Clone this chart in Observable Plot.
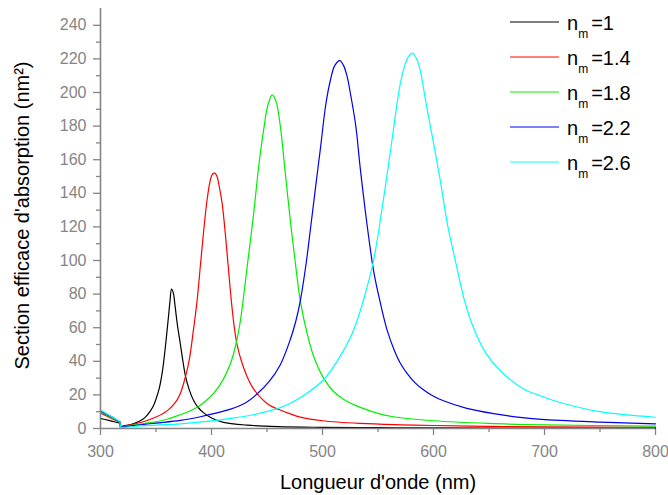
<!DOCTYPE html>
<html>
<head>
<meta charset="utf-8">
<script src="https://cdn.jsdelivr.net/npm/d3@7"></script>
<script src="https://cdn.jsdelivr.net/npm/@observablehq/plot@0.6"></script>
<style>
  html, body { margin: 0; padding: 0; background: #fff; }
  #wrap { position: relative; width: 668px; height: 495px; font-family: "Liberation Sans", Arial, sans-serif; }
  #legend { position: absolute; left: 0; top: 0; }
</style>
</head>
<body>
<div id="wrap"></div>
<script>
// ---- data ----
const seriesLabels = ["1", "1.4", "1.8", "2.2", "2.6"];
const seriesColors = ["#000000", "#ff0000", "#00f000", "#0000ee", "#00ffff"];

const lam1 = [300,305,310,317.5,318,325,330,335,340,345,348,350,353,356,359,361,362.5,364,365.5,367,369,372,374.5,376.6,380,384,388,393,400,410,432,460,500,550,600,700,800];
const sig1 = [6,5.2,4.4,3.2,1.2,2,3,4.3,6.5,10.5,14,17.5,24,35,52,65,75,83,81,74,63,50,39,31,23,16.5,12.5,9.3,6.2,3.8,2,1.1,0.7,0.5,0.35,0.2,0.15];

const lam2 = [300,305,310,317.5,318,325,330,340,350,360,368,372,376.6,380,384,387,390,393,396,399,401,403,405,407,409.6,413,417,420,423,427,432,437,442.6,452,460,470,480,500,534,570,600,650,700,800];
const sig2 = [9.2,7.6,6,3.6,1,1.9,2.6,4.3,6.8,10.5,16,21,31,41,60,76,97,118,136,148,151.5,152,150,144,134,112,82,63,50,40,31,24.5,19.6,14,11.5,9,6.8,4.6,3,2.2,1.8,1.3,1,0.7];

const lam3 = [300,305,310,317.5,318,325,330,340,350,360,370,380,388,395,402,410,417,422,426,429,433,438,442,447,451,454.7,458,462,466,471,476,480,486,492,501,510,520,534,550,564,600,650,700,800];
const sig3 = [10,8.2,6.6,3.8,0.9,1.5,2,3,4,5.5,7.8,10.3,13,16.5,21,28.5,38.5,50,64,79,101,128,153,178,193,198.6,195,180,155,124,96,76,57,43,30,22,17,12.6,9,7,4.6,3,2.2,1.4];

const lam4 = [300,305,310,317.5,318,330,350,372,390,403,417,430,441,452,462,471,476,480,485,489,494,498,503,507,511,515.6,519,522,525,530,534,540,546,551,558,565,570,576,583,590,598,609,630,654,680,714,750,800];
const sig4 = [10.5,8.6,7,3.9,0.8,1.8,3.2,4.8,7,9,11.5,15,20.5,28,38,53,64,76,97,118,145,166,193,207,216,219,216,210,200,180,155,122,94,78,59,46,39,33,27.5,23.5,20,16.5,12,8.9,6.5,4.8,3.8,2.8];

const lam5 = [300,305,310,317.5,318,330,350,372,400,417,440,453,459,471,486,501,515,525,531,538,546,553,561,566,570,575,578,581,584,587,594,600,606,613,621,628,636,647,660,680,696,714,750,800];
const sig5 = [11,9,7.2,4,0.5,1.2,2,2.8,4.5,6,8.5,10.7,11.7,15,21,29,42,54,64,79,100,128,164,188,205,218,222,223.4,221,216,191,170,148,120,96,76,60,45,34.5,24,19.5,15.5,10,6.7];

const xMajor = [300, 400, 500, 600, 700, 800];
const xMinor = [350, 450, 550, 650, 750];
const yMajor = [0, 20, 40, 60, 80, 100, 120, 140, 160, 180, 200, 220, 240];
const yMinor = [10, 30, 50, 70, 90, 110, 130, 150, 170, 190, 210, 230];

const xTitle = "Longueur d'onde (nm)";
const yTitle = "Section efficace d'absorption (nm²)";

// ---- build ----
const lams = [lam1, lam2, lam3, lam4, lam5];
const sigs = [sig1, sig2, sig3, sig4, sig5];
// the spectra have a step at 318 nm: split each curve into two segments there
const series = lams.map((l, i) => l.map((x, j) => ({x, y: sigs[i][j], seg: x < 318 ? 0 : 1})));

const axisGray = "#858585";

const chart = Plot.plot({
  width: 668,
  height: 495,
  marginLeft: 100,
  marginRight: 13,
  marginTop: 8,
  marginBottom: 67,
  x: {domain: [300, 800]},
  y: {domain: [0, 250]},
  style: {fontFamily: "'Liberation Sans', Arial, sans-serif", background: "white", overflow: "visible"},
  marks: [
    Plot.axisY({ticks: yMajor, tickSize: 7, tickPadding: 7, fontSize: 16, color: axisGray, strokeWidth: 1.3, label: null}),
    Plot.axisY({ticks: yMinor, tickSize: 4, tickFormat: () => "", color: axisGray, strokeWidth: 1.3, label: null}),
    Plot.axisX({ticks: xMajor, tickSize: 7, tickPadding: 10, fontSize: 16, color: axisGray, strokeWidth: 1.3, label: null}),
    Plot.axisX({ticks: xMinor, tickSize: 4, tickFormat: () => "", color: axisGray, strokeWidth: 1.3, label: null}),
    ...series.map((d, i) => Plot.line(d, {x: "x", y: "y", z: "seg", stroke: seriesColors[i], strokeWidth: 1.2, curve: "catmull-rom"})),
    // vertical step at 318 nm joining both segments
    ...series.map((d, i) => Plot.line(d.filter(p => p.x === 317.5 || p.x === 318), {x: "x", y: "y", stroke: seriesColors[i], strokeWidth: 1.2})),
    Plot.ruleX([300], {stroke: axisGray, strokeWidth: 1.6}),
    Plot.ruleY([0], {stroke: axisGray, strokeWidth: 1.6}),
    Plot.text([xTitle], {frameAnchor: "bottom", dy: 54, lineAnchor: "middle", textAnchor: "middle", fontSize: 20, fill: "#000"}),
    Plot.text([yTitle], {frameAnchor: "left", dx: -78, dy: -3, rotate: -90, lineAnchor: "middle", textAnchor: "middle", fontSize: 20, fill: "#000"})
  ]
});

const wrap = document.getElementById("wrap");
wrap.appendChild(chart);

// ---- legend (overlay) ----
const legend = d3.select(wrap).append("svg")
  .attr("id", "legend")
  .attr("width", 668).attr("height", 495)
  .style("font-family", "'Liberation Sans', Arial, sans-serif");

seriesLabels.forEach((lab, i) => {
  const yRow = 22 + i * 35;
  const g = legend.append("g");
  g.append("line")
    .attr("x1", 510).attr("x2", 559)
    .attr("y1", yRow).attr("y2", yRow)
    .attr("stroke", seriesColors[i]).attr("stroke-width", 1.2);
  const t = g.append("text")
    .attr("x", 567).attr("y", yRow + 8)
    .attr("font-size", 20).attr("fill", "#000");
  t.append("tspan").text("n");
  t.append("tspan").attr("dy", 8).attr("font-size", 12).text("m");
  t.append("tspan").attr("dy", -8).attr("dx", 3).text("=" + lab);
});
</script>
</body>
</html>
